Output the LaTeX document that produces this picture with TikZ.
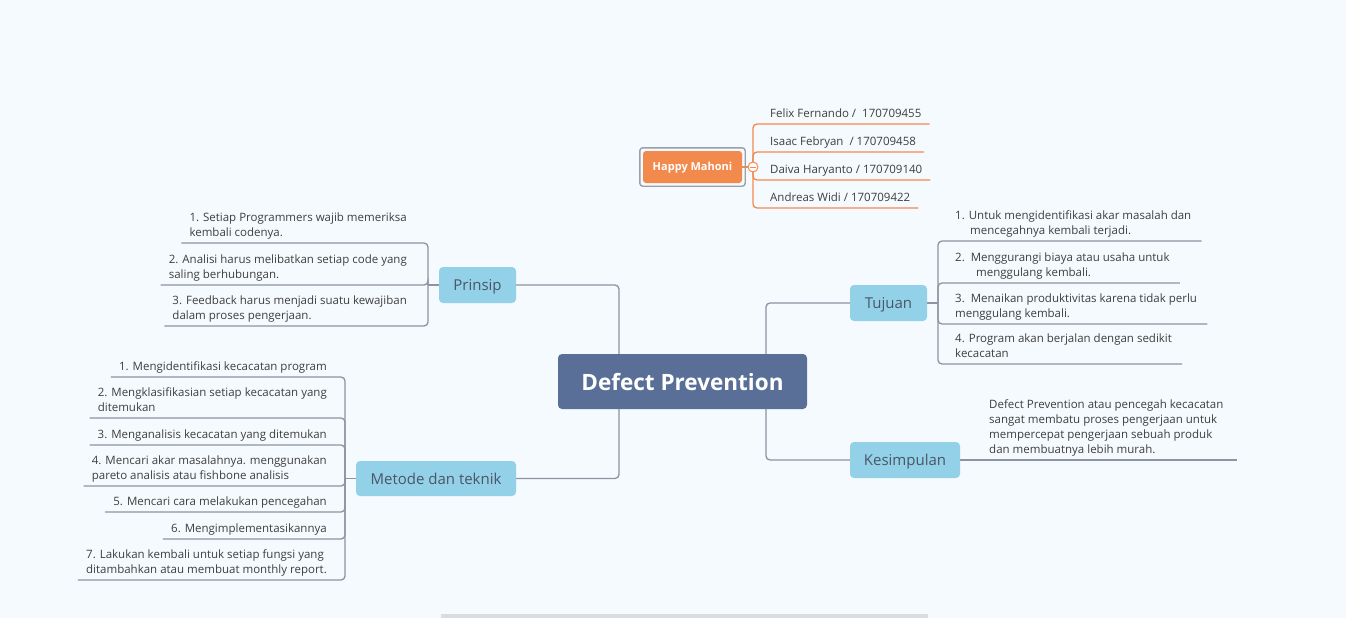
\documentclass[tikz,border=0pt]{standalone}
\usepackage{fontspec}
\setmainfont{Open Sans}
\usetikzlibrary{backgrounds}
\definecolor{bgcol}{HTML}{F5FAFE}
\definecolor{conncol}{HTML}{8D93A1}
\definecolor{topicblue}{HTML}{93D1E8}
\definecolor{topictext}{HTML}{4A5668}
\definecolor{centralcol}{HTML}{5A6F97}
\definecolor{orng}{HTML}{F2894D}
\definecolor{txtcol}{HTML}{3E3E3E}
\definecolor{framecol}{HTML}{9BA0A7}
\definecolor{barcol}{HTML}{D9DCE0}
\newcommand\lfdepth{\rule[-6pt]{0pt}{6pt}}
\begin{document}
\begin{tikzpicture}[x=1pt,y=-1pt,
  conn/.style={draw=conncol, line width=1.3pt, rounded corners=4pt},
  oconn/.style={draw=orng, line width=1.3pt, rounded corners=4pt},
  topic/.style={fill=topicblue, rounded corners=4pt, text=topictext,
    font=\fontsize{15}{18}\selectfont, inner sep=0pt,
    text height=15pt, text depth=3.6pt},
  leaf/.style={font=\fontsize{11.5}{15}\selectfont, text=txtcol, align=left,
    inner xsep=8pt, inner ysep=0pt}]
\useasboundingbox (0,0) rectangle (1346,618);

% central and main topics
\node[fill=centralcol, rounded corners=4pt, text=white, inner sep=0pt,
  minimum width=249pt, minimum height=55pt,
  font=\fontsize{22.5}{26}\selectfont\bfseries] (dp) at (682.5,381.5) {Defect Prevention};
\node[topic, minimum width=77pt, minimum height=36pt] (prinsip) at (477.5,285) {Prinsip};
\node[topic, minimum width=160pt, minimum height=35pt] (metode) at (436,478.5) {Metode dan teknik};
\node[topic, minimum width=77pt, minimum height=36pt] (tujuan) at (888.5,303) {Tujuan};
\node[topic, minimum width=110pt, minimum height=36pt] (kesim) at (905,460) {Kesimpulan};

% Happy Mahoni
\node[fill=orng, rounded corners=3pt, text=white, inner sep=0pt,
  minimum width=99pt, minimum height=32pt, text height=10pt, text depth=2.2pt,
  font=\fontsize{11}{13}\selectfont\bfseries] (hm) at (692.5,167) {Happy Mahoni};
\draw[framecol, line width=1.4pt, rounded corners=3pt]
  ([shift={(-3,-3)}]hm.north west) rectangle ([shift={(3,3)}]hm.south east);
\node[circle, draw=orng, fill=white, minimum size=10pt, inner sep=0pt, line width=1pt] (hmc) at (753,167) {};
\draw[orng, line width=1pt] ([xshift=-3pt]hmc.center) -- ([xshift=3pt]hmc.center);

\node[leaf, anchor=south west] (h1) at (762,124) {Felix Fernando /~ 170709455\lfdepth};
\node[leaf, anchor=south west] (h2) at (762,152) {Isaac Febryan~ / 170709458\lfdepth};
\node[leaf, anchor=south west] (h3) at (762,180) {Daiva Haryanto / 170709140\lfdepth};
\node[leaf, anchor=south west] (h4) at (762,208) {Andreas Widi / 170709422\lfdepth};

% Prinsip leaves
\coordinate (pj) at (428,285);
\node[leaf, anchor=south east] (p1) at (415,243) {1. Setiap Programmers wajib memeriksa\\kembali codenya.\lfdepth};
\node[leaf, anchor=south east] (p2) at (415,285) {2. Analisi harus melibatkan setiap code yang\\saling berhubungan.\lfdepth};
\node[leaf, anchor=south east] (p3) at (415,326) {3. Feedback harus menjadi suatu kewajiban\\dalam proses pengerjaan.\lfdepth};

% Metode leaves
\coordinate (mj) at (345,478.5);
\node[leaf, anchor=south east] (m1) at (335,377) {1. Mengidentifikasi kecacatan program\lfdepth};
\node[leaf, anchor=south east] (m2) at (335,418) {2. Mengklasifikasian setiap kecacatan yang\\ditemukan\lfdepth};
\node[leaf, anchor=south east] (m3) at (335,445) {3. Menganalisis kecacatan yang ditemukan\lfdepth};
\node[leaf, anchor=south east] (m4) at (335,486) {4. Mencari akar masalahnya. menggunakan\\pareto analisis atau fishbone analisis\lfdepth};
\node[leaf, anchor=south east] (m5) at (335,512) {5. Mencari cara melakukan pencegahan\lfdepth};
\node[leaf, anchor=south east] (m6) at (335,539) {6. Mengimplementasikannya\lfdepth};
\node[leaf, anchor=south east] (m7) at (335,580) {7. Lakukan kembali untuk setiap fungsi yang\\ditambahkan atau membuat monthly report.\lfdepth};

% Tujuan leaves
\coordinate (tj) at (938,303);
\node[leaf, anchor=south west, inner xsep=10pt] (t1) at (945,241) {1. Untuk mengidentifikasi akar masalah dan\\\hspace*{15pt}mencegahnya kembali terjadi.\lfdepth};
\node[leaf, anchor=south west, inner xsep=10pt] (t2) at (945,283) {2.~~Menggurangi biaya atau usaha untuk\\\hspace*{21pt}menggulang kembali.\lfdepth};
\node[leaf, anchor=south west, inner xsep=10pt] (t3) at (945,324) {3.~~Menaikan produktivitas karena tidak perlu\\menggulang kembali.\lfdepth};
\node[leaf, anchor=south west, inner xsep=10pt] (t4) at (945,364) {4. Program akan berjalan dengan sedikit\\kecacatan\lfdepth};

% Kesimpulan leaf
\node[leaf, anchor=south west, inner xsep=10pt] (k1) at (979,460) {Defect Prevention atau pencegah kecacatan\\sangat membatu proses pengerjaan untuk\\mempercepat pengerjaan sebuah produk\\dan membuatnya lebih murah.\lfdepth};

\coordinate (cl) at (619,381.5);
\coordinate (cr) at (766,381.5);

\begin{pgfonlayer}{background}
  \fill[bgcol] (0,0) rectangle (1346,618);
  \fill[barcol] (441,614) rectangle (928,618);
  \draw[conn] (prinsip.east) -| (cl) |- (metode.east);
  \draw[conn] (tujuan.west) -| (cr) |- (kesim.west);
  % Prinsip
  \draw[conn] (prinsip.west) -- (pj);
  \foreach \n in {p1,p2,p3} \draw[conn] (pj) |- (\n.south west);
  % Metode
  \draw[conn] (metode.west) -- (mj);
  \foreach \n in {m1,m2,m3,m4,m5,m6,m7} \draw[conn] (mj) |- (\n.south west);
  % Tujuan
  \draw[conn] (tujuan.east) -- (tj);
  \foreach \n in {t1,t2,t3,t4} \draw[conn] (tj) |- (\n.south east);
  % Kesimpulan
  \draw[conn] (kesim.east) -- ([xshift=3pt]k1.south east);
  % Happy Mahoni
  \draw[oconn] (hm.east) -- (hmc.center);
  \foreach \n in {h1,h2,h3,h4} \draw[oconn] (hmc.center) |- (\n.south east);
\end{pgfonlayer}
\end{tikzpicture}
\end{document}
